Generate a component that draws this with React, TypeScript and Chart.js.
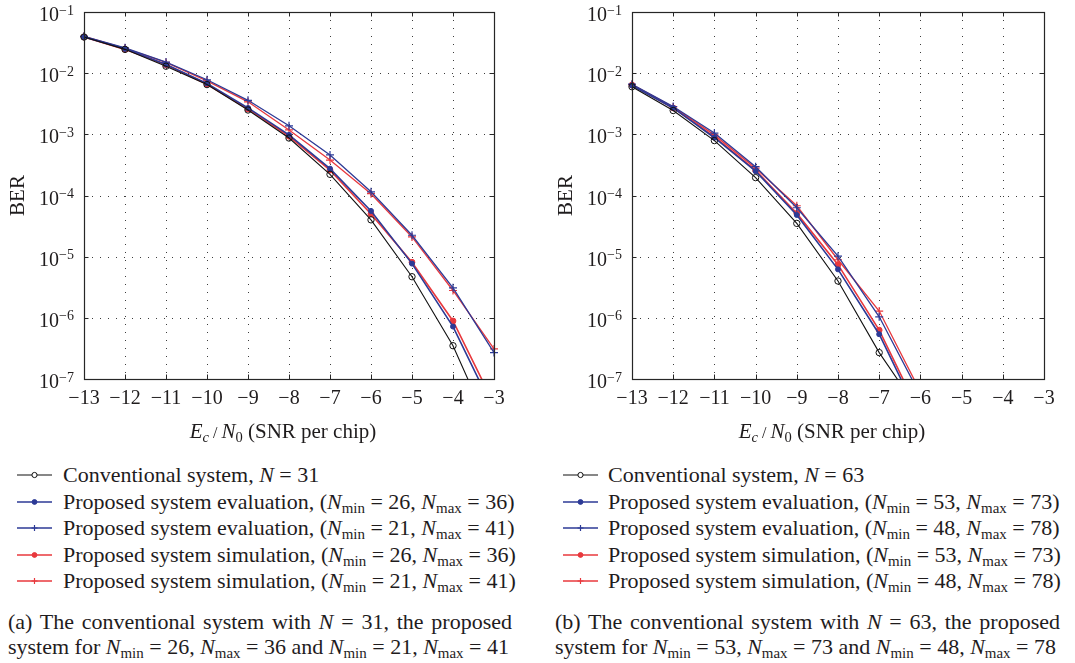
import React, { useEffect, useRef } from 'react';
import { Chart, registerables } from 'chart.js';

Chart.register(...registerables);

const FONT = "'Liberation Serif', 'Times New Roman', serif";
const TEXT = '#1f1c1d';
const BLUE = '#2c3a96';
const RED = '#e8383d';
const BLACK = '#111111';

// ---- Panel (a): N = 31 ----
const xA = [-13, -12, -11, -10, -9, -8, -7, -6, -5, -4, -3];
const convA = [0.039, 0.0245, 0.013, 0.0065, 0.0025, 0.00087, 0.000222, 4.0e-5, 4.7e-6, 3.5e-7, 1.1e-8];
const evalA1 = [0.039, 0.025, 0.0138, 0.0068, 0.0027, 0.00098, 0.000275, 5.6e-5, 7.7e-6, 7.2e-7, 3.0e-8];
const evalA2 = [0.040, 0.026, 0.0152, 0.0078, 0.0036, 0.00138, 0.00046, 1.15e-4, 2.24e-5, 3.1e-6, 2.7e-7];
const simA1 = [0.039, 0.0245, 0.0137, 0.0066, 0.0026, 0.00093, 0.00026, 5.0e-5, 8.1e-6, 8.9e-7, 3.9e-8];
const simA2 = [0.040, 0.0255, 0.015, 0.0075, 0.0034, 0.00118, 0.00038, 1.07e-4, 2.1e-5, 2.8e-6, 3.1e-7];

// ---- Panel (b): N = 63 ----
const xB = [-13, -12, -11, -10, -9, -8, -7, -6];
const convB = [0.0060, 0.00245, 0.00079, 0.000196, 3.5e-5, 4.0e-6, 2.7e-7, 2.8e-8];
const evalB1 = [0.0063, 0.0027, 0.00088, 0.00025, 4.8e-5, 6.2e-6, 5.4e-7, 2.2e-8];
const evalB2 = [0.0066, 0.00285, 0.00105, 0.000296, 6.3e-5, 1.02e-5, 1.04e-6, 5.4e-8];
const simB1 = [0.0064, 0.0027, 0.00091, 0.000257, 5.1e-5, 7.4e-6, 6.3e-7, 2.6e-8];
const simB2 = [0.0065, 0.0028, 0.00098, 0.00028, 6.8e-5, 8.9e-6, 1.29e-6, 6.2e-8];

// ---- Axes ----
const xTicks = [-13, -12, -11, -10, -9, -8, -7, -6, -5, -4, -3];
const yTickExps = [-7, -6, -5, -4, -3, -2, -1];
const xMin = -13;
const xMax = -3;
const yMinExp = -7;
const yMaxExp = -1;

// ---- Legend / caption text ----
const legendA = [
  { text: 'Conventional system', n: 31 },
  { text: 'Proposed system evaluation', nmin: 26, nmax: 36 },
  { text: 'Proposed system evaluation', nmin: 21, nmax: 41 },
  { text: 'Proposed system simulation', nmin: 26, nmax: 36 },
  { text: 'Proposed system simulation', nmin: 21, nmax: 41 },
];
const legendB = [
  { text: 'Conventional system', n: 63 },
  { text: 'Proposed system evaluation', nmin: 53, nmax: 73 },
  { text: 'Proposed system evaluation', nmin: 48, nmax: 78 },
  { text: 'Proposed system simulation', nmin: 53, nmax: 73 },
  { text: 'Proposed system simulation', nmin: 48, nmax: 78 },
];
const captionA = { tag: '(a)', n: 31, p1: [26, 36], p2: [21, 41] };
const captionB = { tag: '(b)', n: 63, p1: [53, 73], p2: [48, 78] };

const seriesStyles = [
  { color: BLACK, width: 1.1, style: 'circle', radius: 3.2, fill: 'rgba(0,0,0,0)', pbw: 1 },
  { color: BLUE, width: 1.6, style: 'circle', radius: 2.5, fill: BLUE, pbw: 1 },
  { color: BLUE, width: 1.3, style: 'cross', radius: 4, fill: BLUE, pbw: 1.2 },
  { color: RED, width: 1.6, style: 'circle', radius: 2.9, fill: RED, pbw: 1 },
  { color: RED, width: 1.3, style: 'cross', radius: 4, fill: RED, pbw: 1.2 },
];

const fmtMinus = (v: number) => (v < 0 ? '−' : '') + Math.abs(v);

const framePlugin = {
  id: 'frame',
  beforeDatasetsDraw(chart: any) {
    const { ctx, chartArea: a, scales } = chart;
    const x = scales.x;
    const y = scales.y;
    ctx.save();
    ctx.strokeStyle = '#3c3c3c';
    ctx.lineWidth = 1;
    ctx.setLineDash([1, 7]);
    x.ticks.forEach((t: any) => {
      const px = Math.round(x.getPixelForValue(t.value)) + 0.5;
      if (px > a.left + 2 && px < a.right - 2) {
        ctx.beginPath();
        ctx.moveTo(px, a.top);
        ctx.lineTo(px, a.bottom);
        ctx.stroke();
      }
    });
    y.ticks.forEach((t: any) => {
      const py = Math.round(y.getPixelForValue(t.value)) + 0.5;
      if (py > a.top + 2 && py < a.bottom - 2) {
        ctx.beginPath();
        ctx.moveTo(a.left, py);
        ctx.lineTo(a.right, py);
        ctx.stroke();
      }
    });
    ctx.restore();
  },
  afterDatasetsDraw(chart: any) {
    const { ctx, chartArea: a, scales } = chart;
    const x = scales.x;
    const y = scales.y;
    ctx.save();
    ctx.strokeStyle = '#262626';
    ctx.lineWidth = 1.2;
    ctx.setLineDash([]);
    ctx.strokeRect(Math.round(a.left) + 0.5, Math.round(a.top) + 0.5, Math.round(a.right - a.left), Math.round(a.bottom - a.top));
    const tl = 4.5;
    ctx.lineWidth = 1;
    x.ticks.forEach((t: any) => {
      const px = Math.round(x.getPixelForValue(t.value)) + 0.5;
      ctx.beginPath();
      ctx.moveTo(px, a.bottom);
      ctx.lineTo(px, a.bottom - tl);
      ctx.moveTo(px, a.top);
      ctx.lineTo(px, a.top + tl);
      ctx.stroke();
    });
    y.ticks.forEach((t: any) => {
      const py = Math.round(y.getPixelForValue(t.value)) + 0.5;
      ctx.beginPath();
      ctx.moveTo(a.left, py);
      ctx.lineTo(a.left + tl, py);
      ctx.moveTo(a.right, py);
      ctx.lineTo(a.right - tl, py);
      ctx.stroke();
    });
    ctx.restore();
  },
  afterDraw(chart: any) {
    const { ctx, chartArea: a, scales } = chart;
    const y = scales.y;
    ctx.save();
    ctx.fillStyle = TEXT;
    ctx.textBaseline = 'alphabetic';

    // y tick labels: 10 with superscript exponent, placed at the scale's tick pixels
    y.ticks.forEach((t: any) => {
      const py = y.getPixelForValue(t.value);
      const exp = Math.round(Math.log10(t.value));
      const expText = fmtMinus(exp);
      ctx.font = `14px ${FONT}`;
      const ew = ctx.measureText(expText).width;
      const right = a.left - 10;
      ctx.textAlign = 'right';
      ctx.fillText(expText, right, py + 2.5);
      ctx.font = `20px ${FONT}`;
      ctx.fillText('10', right - ew, py + 9);
    });

    // x axis title with italic and subscripts
    const size = 21;
    const subSize = 14.5;
    const parts = [
      { t: 'E', font: `italic ${size}px ${FONT}`, dy: 0 },
      { t: 'c', font: `italic ${subSize}px ${FONT}`, dy: 4 },
      { t: ' / ', font: `${size - 5}px ${FONT}`, dy: 0 },
      { t: 'N', font: `italic ${size}px ${FONT}`, dy: 0 },
      { t: '0', font: `${subSize}px ${FONT}`, dy: 4 },
      { t: ' (SNR per chip)', font: `${size}px ${FONT}`, dy: 0 },
    ];
    ctx.textAlign = 'left';
    let total = 0;
    const widths = parts.map((p) => {
      ctx.font = p.font;
      const w = ctx.measureText(p.t).width;
      total += w;
      return w;
    });
    let cx = (a.left + a.right) / 2 - 6 - total / 2;
    const base = 438;
    parts.forEach((p, i) => {
      ctx.font = p.font;
      ctx.fillText(p.t, cx, base + p.dy);
      cx += widths[i];
    });
    ctx.restore();
  },
};

type PanelProps = {
  xs: number[];
  series: number[][];
  width: number;
  height: number;
  plotLeft: number;
  plotRight: number;
  plotBottom: number;
};

function BerChart({ xs, series, width, height, plotLeft, plotRight, plotBottom }: PanelProps) {
  const ref = useRef<HTMLCanvasElement | null>(null);
  useEffect(() => {
    if (!ref.current) return;
    const datasets = series.map((vals, si) => {
      const s = seriesStyles[si];
      return {
        data: xs.map((x, i) => ({ x, y: vals[i] })),
        borderColor: s.color,
        borderWidth: s.width,
        pointStyle: s.style,
        pointRadius: s.radius,
        pointBackgroundColor: s.fill,
        pointBorderColor: s.color,
        pointBorderWidth: s.pbw,
        tension: 0,
        fill: false,
        clip: { left: 8, top: 8, right: 8, bottom: 0 },
      };
    });
    const chart = new Chart(ref.current, {
      type: 'line',
      data: { datasets },
      plugins: [framePlugin],
      options: {
        animation: false,
        responsive: false,
        maintainAspectRatio: false,
        layout: { padding: { left: 0, top: 12, right: width - plotRight, bottom: 0 } },
        plugins: { legend: { display: false }, tooltip: { enabled: false } },
        scales: {
          x: {
            type: 'linear',
            min: xMin,
            max: xMax,
            afterBuildTicks: (s: any) => {
              s.ticks = xTicks.map((v) => ({ value: v }));
            },
            afterFit: (s: any) => {
              s.height = height - plotBottom;
            },
            grid: { display: false, drawTicks: false },
            border: { display: false },
            ticks: {
              autoSkip: false,
              maxRotation: 0,
              padding: 8,
              color: TEXT,
              font: { family: FONT, size: 20 },
              callback: (v: any) => fmtMinus(Number(v)),
            },
          },
          y: {
            type: 'logarithmic',
            min: Math.pow(10, yMinExp),
            max: Math.pow(10, yMaxExp),
            afterBuildTicks: (s: any) => {
              s.ticks = yTickExps.map((e) => ({ value: Math.pow(10, e) }));
            },
            afterFit: (s: any) => {
              s.width = plotLeft;
            },
            grid: { display: false, drawTicks: false },
            border: { display: false },
            ticks: { display: false, autoSkip: false },
            title: {
              display: true,
              text: 'BER',
              color: TEXT,
              font: { family: FONT, size: 21 },
              padding: { top: 6, bottom: 0 },
            },
          },
        },
      } as any,
    });
    return () => chart.destroy();
  }, [xs, series, width, height, plotLeft, plotRight, plotBottom]);
  return <canvas ref={ref} width={width} height={height} style={{ width, height, display: 'block' }} />;
}

const subStyle: React.CSSProperties = { fontSize: '0.68em', verticalAlign: '-0.28em', lineHeight: 0 };

function NSub({ s }: { s: string }) {
  return (
    <>
      <i>N</i>
      <span style={subStyle}>{s}</span>
    </>
  );
}

function LegendLabel({ e }: { e: any }) {
  if (e.n !== undefined) {
    return (
      <>
        {e.text}, <i>N</i> = {e.n}
      </>
    );
  }
  return (
    <>
      {e.text}, (<NSub s="min" /> = {e.nmin}, <NSub s="max" /> = {e.nmax})
    </>
  );
}

function Marker({ si }: { si: number }) {
  const s = seriesStyles[si];
  return (
    <svg width={36} height={14} style={{ position: 'absolute', left: 0, top: 6 }}>
      <line x1={0} y1={7} x2={35} y2={7} stroke={s.color} strokeWidth={s.width} />
      {s.style === 'circle' ? (
        <circle cx={17.5} cy={7} r={si === 0 ? 2.6 : 2.4} fill={si === 0 ? 'white' : s.color} stroke={s.color} strokeWidth={1} />
      ) : (
        <path d="M14.5 7 H20.5 M17.5 4 V10" stroke={s.color} strokeWidth={1.2} />
      )}
    </svg>
  );
}

function Legend({ entries, left, textLeft }: { entries: any[]; left: number; textLeft: number }) {
  return (
    <div style={{ position: 'absolute', left, top: 462, fontFamily: FONT, fontSize: 22, color: TEXT }}>
      {entries.map((e, i) => (
        <div key={i} style={{ position: 'relative', height: 26.6, lineHeight: '26.6px', whiteSpace: 'nowrap' }}>
          <Marker si={i} />
          <div style={{ position: 'absolute', left: textLeft - left, top: 0 }}>
            <LegendLabel e={e} />
          </div>
        </div>
      ))}
    </div>
  );
}

function Caption({ c, left, width }: { c: any; left: number; width: number }) {
  return (
    <div style={{ position: 'absolute', left, top: 609, width, fontFamily: FONT, fontSize: 22, color: TEXT, lineHeight: '25px' }}>
      <div style={{ textAlign: 'justify', textAlignLast: 'justify' } as any}>
        {c.tag} The conventional system with <i>N</i> = {c.n}, the proposed
      </div>
      <div style={{ whiteSpace: 'nowrap' }}>
        system for <NSub s="min" /> = {c.p1[0]}, <NSub s="max" /> = {c.p1[1]} and <NSub s="min" /> = {c.p2[0]}, <NSub s="max" /> = {c.p2[1]}
      </div>
    </div>
  );
}

const seriesA = [convA, evalA1, evalA2, simA1, simA2];
const seriesB = [convB, evalB1, evalB2, simB1, simB2];

export default function App() {
  return (
    <div style={{ position: 'absolute', left: 0, top: 0, width: 1075, height: 663, background: 'white', overflow: 'hidden' }}>
      <div style={{ position: 'absolute', left: 0, top: 0 }}>
        <BerChart xs={xA} series={seriesA} width={520} height={450} plotLeft={84} plotRight={494} plotBottom={379} />
      </div>
      <div style={{ position: 'absolute', left: 548, top: 0 }}>
        <BerChart xs={xB} series={seriesB} width={527} height={450} plotLeft={84} plotRight={496} plotBottom={379} />
      </div>
      <Legend entries={legendA} left={17} textLeft={63} />
      <Legend entries={legendB} left={563} textLeft={608} />
      <Caption c={captionA} left={8} width={504} />
      <Caption c={captionB} left={555} width={505} />
    </div>
  );
}
